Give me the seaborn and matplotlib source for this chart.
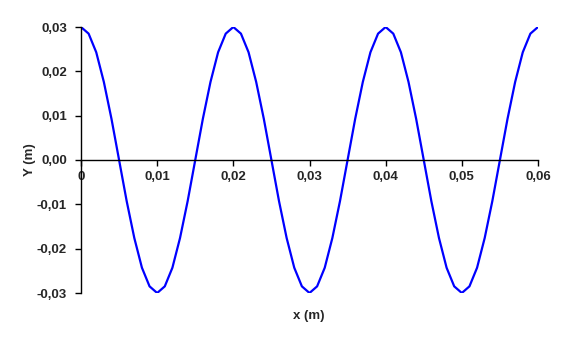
import matplotlib
matplotlib.use("Agg")
import matplotlib.pyplot as plt
import seaborn as sns
import pandas as pd

# x positions (m), read every 0.001 m
x_m = [round(i * 0.001, 3) for i in range(61)]
# displacement Y (m)
y_m = [
    0.0300, 0.0285, 0.0243, 0.0176, 0.0093, 0.0000, -0.0093, -0.0176, -0.0243, -0.0285,
    -0.0300, -0.0285, -0.0243, -0.0176, -0.0093, 0.0000, 0.0093, 0.0176, 0.0243, 0.0285,
    0.0300, 0.0285, 0.0243, 0.0176, 0.0093, 0.0000, -0.0093, -0.0176, -0.0243, -0.0285,
    -0.0300, -0.0285, -0.0243, -0.0176, -0.0093, 0.0000, 0.0093, 0.0176, 0.0243, 0.0285,
    0.0300, 0.0285, 0.0243, 0.0176, 0.0093, 0.0000, -0.0093, -0.0176, -0.0243, -0.0285,
    -0.0300, -0.0285, -0.0243, -0.0176, -0.0093, 0.0000, 0.0093, 0.0176, 0.0243, 0.0285,
    0.0300,
]
x_ticks = [0, 0.01, 0.02, 0.03, 0.04, 0.05, 0.06]
x_tick_labels = ["0", "0,01", "0,02", "0,03", "0,04", "0,05", "0,06"]
y_ticks = [-0.03, -0.02, -0.01, 0.0, 0.01, 0.02, 0.03]
y_tick_labels = ["-0,03", "-0,02", "-0,01", "0,00", "0,01", "0,02", "0,03"]

sns.set_style("white")
plt.rcParams["font.family"] = ["Liberation Sans", "DejaVu Sans"]

df = pd.DataFrame({"x": x_m, "y": y_m})

fig = plt.figure(figsize=(5.67, 3.43), dpi=100)
ax = fig.add_axes([81 / 567, 1 - 293 / 343, 457 / 567, 266 / 343])
sns.lineplot(data=df, x="x", y="y", ax=ax, color="#0000FF", linewidth=1.6)

ax.set_xlim(0, 0.06)
ax.set_ylim(-0.03, 0.03)

ax.spines["top"].set_visible(False)
ax.spines["right"].set_visible(False)
ax.spines["bottom"].set_position(("data", 0))
for s in ("left", "bottom"):
    ax.spines[s].set_color("black")
    ax.spines[s].set_linewidth(1.0)

ax.set_xticks(x_ticks)
ax.set_xticklabels(x_tick_labels, fontsize=9.5, fontweight="bold")
ax.set_yticks(y_ticks)
ax.set_yticklabels(y_tick_labels, fontsize=9.5, fontweight="bold")
ax.tick_params(axis="x", direction="out", length=4, width=1, color="black", pad=4)
ax.tick_params(axis="y", direction="out", length=4, width=1, color="black", pad=6)
ax.tick_params(left=True, bottom=True)

ax.set_xlabel("")
ax.set_ylabel("")
fig.text(309 / 567, 1 - 316 / 343, "x (m)", ha="center", va="center",
         fontsize=9.5, fontweight="bold")
fig.text(30 / 567, 1 - 160 / 343, "Y (m)", ha="center", va="center",
         rotation=90, fontsize=9.5, fontweight="bold")

fig.savefig("out.png", dpi=100)
